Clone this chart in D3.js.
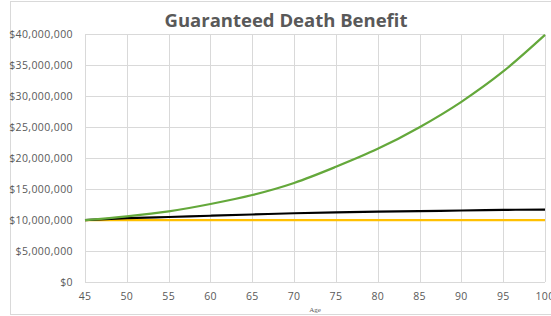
<!DOCTYPE html>
<html>
<head>
<meta charset="utf-8">
<script src="https://cdn.jsdelivr.net/npm/d3@7"></script>
<style>
  body { margin: 0; background: #fff; }
  svg { display: block; font-family: "Open Sans", sans-serif; }
</style>
</head>
<body>
<div id="chart"></div>
<script>
// Ages on the x axis (every 5 years)
const ages = [45, 50, 55, 60, 65, 70, 75, 80, 85, 90, 95, 100];

// Death benefit series, in dollars
const greenValues = [10000000, 10600000, 11400000, 12600000, 14050000, 16000000,
  18600000, 21500000, 25000000, 29100000, 34000000, 39900000];
const blackValues = [10000000, 10300000, 10500000, 10700000, 10900000, 11100000,
  11250000, 11350000, 11450000, 11550000, 11650000, 11700000];
const yellowValues = [10000000, 10000000, 10000000, 10000000, 10000000, 10000000,
  10000000, 10000000, 10000000, 10000000, 10000000, 10000000];

const yTicks = [0, 5000000, 10000000, 15000000, 20000000, 25000000, 30000000, 35000000, 40000000];
const xTicks = [45, 50, 55, 60, 65, 70, 75, 80, 85, 90, 95, 100];

const series = [
  { name: "yellow", values: yellowValues, color: "#FFC000" },
  { name: "black", values: blackValues, color: "#000000" },
  { name: "green", values: greenValues, color: "#64A83B" }
];

buildChart();

function buildChart() {
  const width = 551, height = 316;
  const plot = { left: 85, right: 545, top: 34.3, bottom: 282 };

  const svg = d3.select("#chart").append("svg")
    .attr("width", width)
    .attr("height", height);

  // Outer chart frame (runs off the right edge like the original crop)
  svg.append("rect")
    .attr("x", 10.5).attr("y", 1.5)
    .attr("width", 600).attr("height", 313)
    .attr("fill", "#fff")
    .attr("stroke", "#d9d9d9");

  const x = d3.scaleLinear().domain([45, 100]).range([plot.left, plot.right]);
  const y = d3.scaleLinear().domain([0, 40000000]).range([plot.bottom, plot.top]);

  // Gridlines
  svg.append("g")
    .selectAll("line.h")
    .data(yTicks)
    .join("line")
    .attr("x1", plot.left).attr("x2", plot.right)
    .attr("y1", d => Math.round(y(d)) + 0.5).attr("y2", d => Math.round(y(d)) + 0.5)
    .attr("stroke", "#d9d9d9");

  svg.append("g")
    .selectAll("line.v")
    .data(xTicks)
    .join("line")
    .attr("x1", d => Math.round(x(d)) + 0.5).attr("x2", d => Math.round(x(d)) + 0.5)
    .attr("y1", plot.top).attr("y2", plot.bottom)
    .attr("stroke", "#d9d9d9");

  // Y tick labels
  const fmt = d => "$" + d3.format(",")(d);
  svg.append("g")
    .selectAll("text")
    .data(yTicks)
    .join("text")
    .attr("x", 73)
    .attr("y", d => y(d) + 3.8)
    .attr("text-anchor", "end")
    .attr("font-size", 10.5)
    .attr("letter-spacing", 0.4)
    .attr("fill", "#595959")
    .text(fmt);

  // X tick labels
  svg.append("g")
    .selectAll("text")
    .data(xTicks)
    .join("text")
    .attr("x", d => x(d))
    .attr("y", 300)
    .attr("text-anchor", "middle")
    .attr("font-size", 10.5)
    .attr("letter-spacing", 0.3)
    .attr("fill", "#595959")
    .text(d => d);

  // Axis title
  svg.append("text")
    .attr("x", 315).attr("y", 312)
    .attr("text-anchor", "middle")
    .attr("font-size", 7)
    .attr("font-family", "Liberation Serif, serif")
    .attr("fill", "#595959")
    .text("Age");

  // Chart title
  svg.append("text")
    .attr("x", 286).attr("y", 26.5)
    .attr("text-anchor", "middle")
    .attr("font-size", 18.5)
    .attr("font-weight", "bold")
    .attr("fill", "#595959")
    .text("Guaranteed Death Benefit");

  // Lines
  const line = d3.line()
    .x((d, i) => x(ages[i]))
    .y(d => y(d))
    .curve(d3.curveMonotoneX);

  svg.append("g")
    .selectAll("path")
    .data(series)
    .join("path")
    .attr("d", d => line(d.values))
    .attr("fill", "none")
    .attr("stroke", d => d.color)
    .attr("stroke-width", 2.2);
}
</script>
</body>
</html>
